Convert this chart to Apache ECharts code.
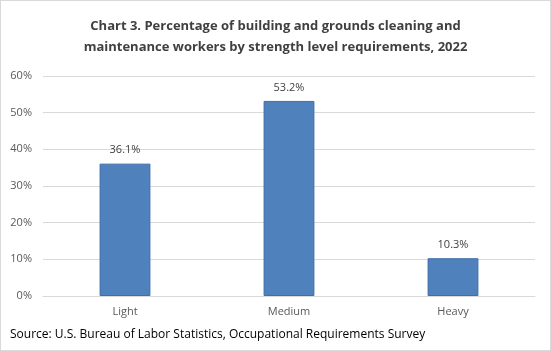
<!DOCTYPE html>
<html><head><meta charset="utf-8">
<script src="https://cdn.jsdelivr.net/npm/echarts@6/dist/echarts.min.js"></script>
<style>html,body{margin:0;padding:0;background:#fff}#c{width:551px;height:351px;box-sizing:border-box;border:1px solid #d9d9d9}</style>
</head><body><div id="c"></div>
<script>
const categories = ["Light", "Medium", "Heavy"];
const values = [36.1, 53.2, 10.3];
const titleLines = ["Chart 3. Percentage of building and grounds cleaning and", "maintenance workers by strength level requirements, 2022"];
const sourceText = "Source: U.S. Bureau of Labor Statistics, Occupational Requirements Survey";
const chart = echarts.init(document.getElementById('c'), null, {renderer: 'canvas'});
chart.setOption({
  animation: false,
  textStyle: {fontFamily: 'Open Sans'},
  title: {
    text: titleLines.join('\n'), left: 'center', top: 10,
    textStyle: {fontFamily: 'Open Sans', fontWeight: 'bold', fontSize: 13, color: '#404040', lineHeight: 21}
  },
  graphic: [{type: 'text', left: 9, top: 328, style: {text: sourceText, font: '12px "Open Sans"', fill: '#000'}}],
  grid: {left: 42, right: 15, top: 75, bottom: 54},
  xAxis: {
    type: 'category', data: categories,
    axisLine: {lineStyle: {color: '#d9d9d9'}}, axisTick: {show: false},
    axisLabel: {color: '#595959', fontSize: 11, margin: 10}
  },
  yAxis: {
    type: 'value', min: 0, max: 60, interval: 10,
    axisLabel: {formatter: '{value}%', color: '#595959', fontSize: 11, margin: 11},
    splitLine: {lineStyle: {color: '#d9d9d9'}}, axisLine: {show: false}, axisTick: {show: false}
  },
  series: [{
    type: 'bar', data: values, barWidth: '31%',
    itemStyle: {color: '#4f81bd', borderColor: '#3f6fa8', borderWidth: 1},
    label: {show: true, position: 'top', formatter: p => p.value.toFixed(1) + '%', color: '#404040', fontSize: 11, distance: 8}
  }]
});
</script></body></html>
